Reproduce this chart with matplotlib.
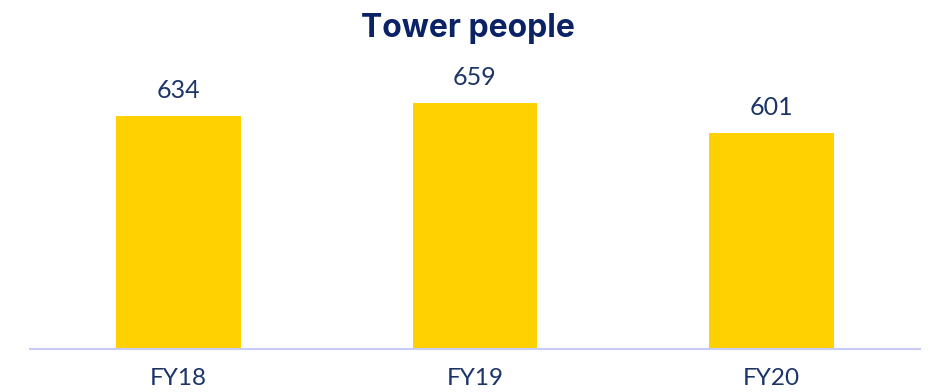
import matplotlib
matplotlib.use('Agg')
import matplotlib.pyplot as plt

# Data
years = ["FY18", "FY19", "FY20"]
people = [634, 659, 601]

navy = "#0b2265"
label_col = "#1c3468"
bar_col = "#ffd100"
base_col = "#c8ccf4"

plt.rcParams['font.family'] = ['Lato', 'DejaVu Sans']

fig = plt.figure(figsize=(9.3, 3.92), dpi=100)
ax = fig.add_axes([30 / 930, 1 - 349 / 392, 890 / 930, 289 / 392])

x = range(len(years))
bars = ax.bar(x, people, width=0.42, color=bar_col, zorder=2)
ax.set_xlim(-0.5, len(years) - 0.5)
ax.set_ylim(190, 740)

# value labels above the bars
for xi, v in zip(x, people):
    ax.annotate(str(v), (xi, v), xytext=(0, 13), textcoords='offset points',
                ha='center', va='baseline', fontsize=18, color=label_col)

ax.set_xticks(list(x))
ax.set_xticklabels(years, fontsize=17.5, color=label_col)
ax.tick_params(axis='x', length=0, pad=14)
ax.set_yticks([])
for s in ['top', 'right', 'left']:
    ax.spines[s].set_visible(False)
ax.spines['bottom'].set_color(base_col)
ax.spines['bottom'].set_linewidth(1.5)

fig.text(468 / 930, 1 - 37 / 392, "Tower people", ha='center', va='baseline',
         fontsize=23, fontweight='bold', color=navy, family=['Inter', 'DejaVu Sans'])

fig.savefig("out.png", dpi=100)
